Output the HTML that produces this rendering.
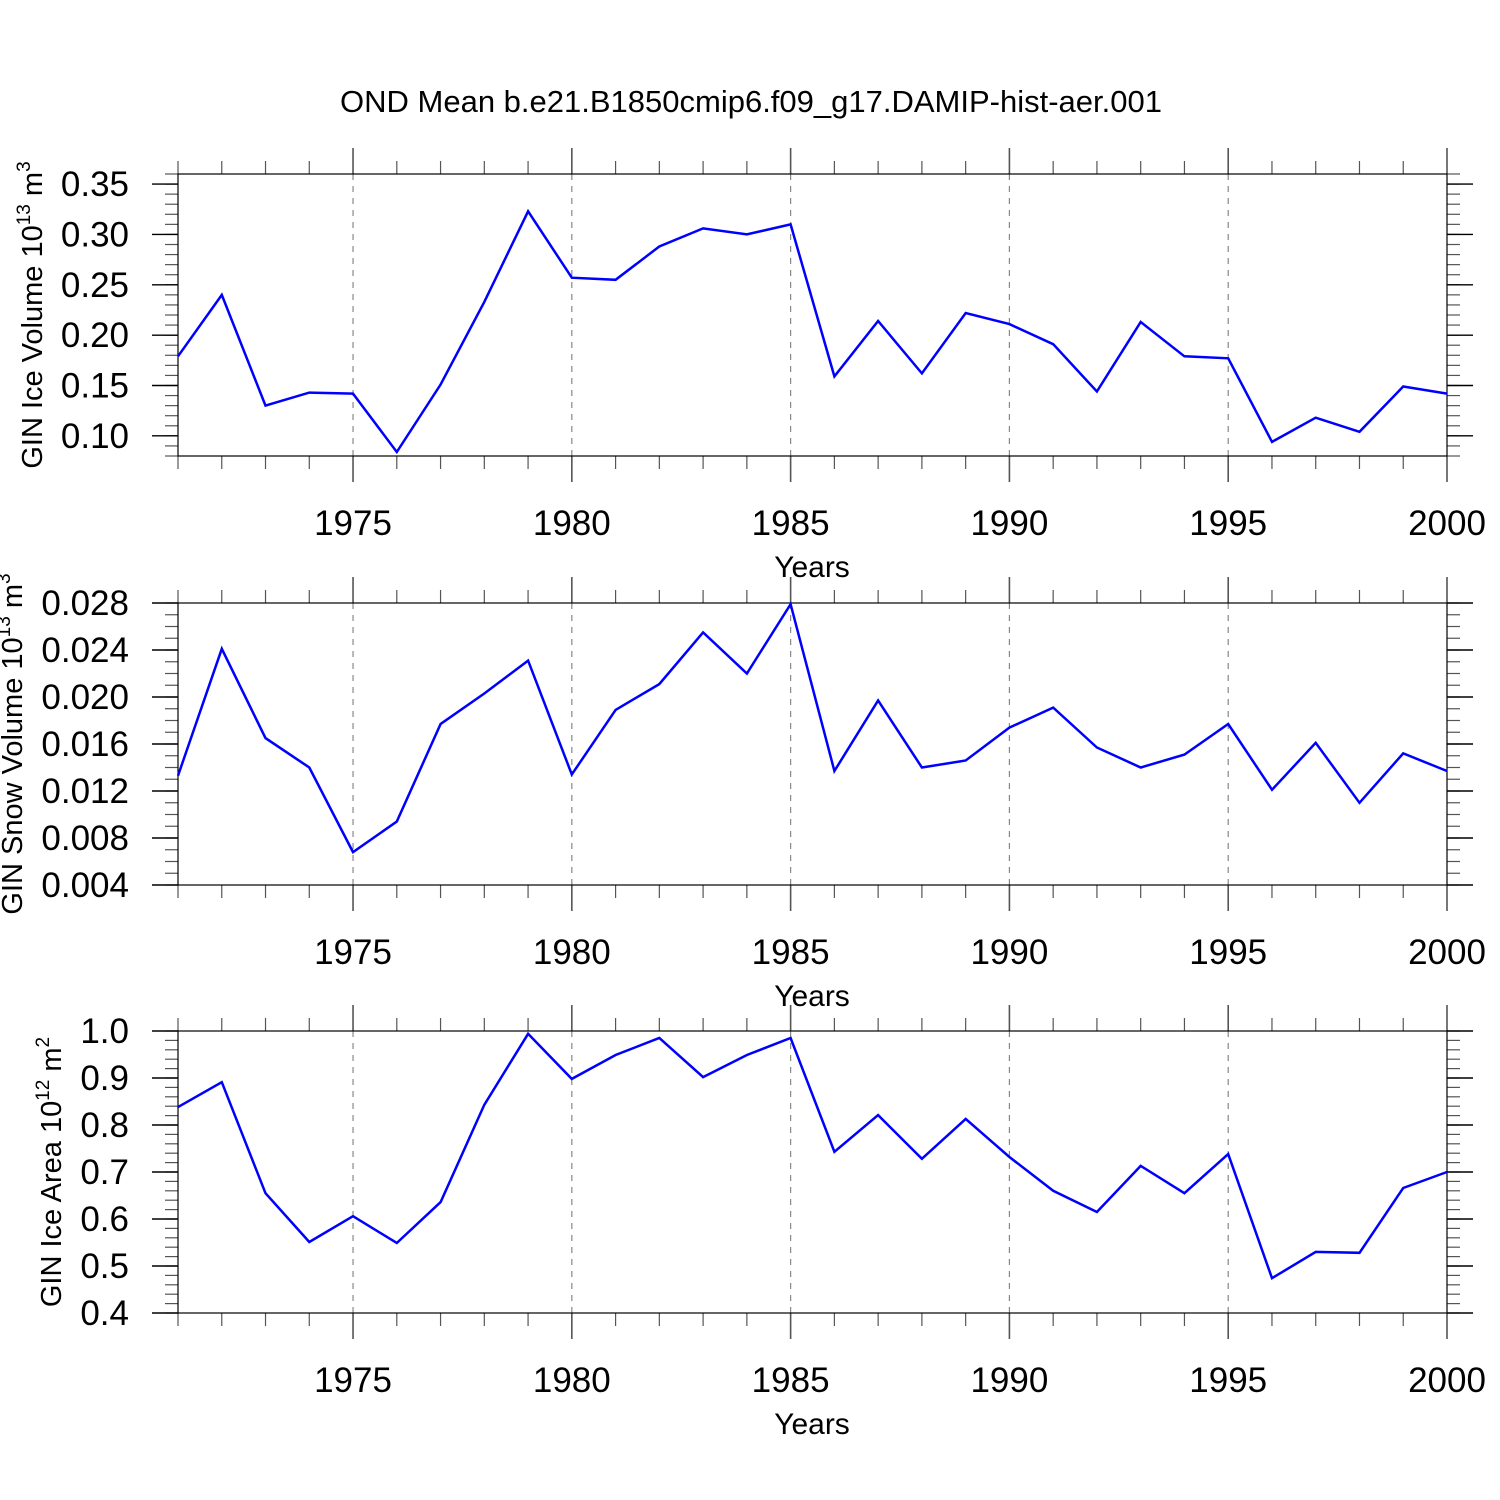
<!DOCTYPE html>
<html><head><meta charset="utf-8"><style>
html,body{margin:0;padding:0;background:#fff}
svg{display:block;font-family:"Liberation Sans",Arial,sans-serif}
</style></head><body>
<svg id="chart" width="1500" height="1500" viewBox="0 0 1500 1500">
<text x="751" y="112" font-size="31" text-anchor="middle">OND Mean b.e21.B1850cmip6.f09_g17.DAMIP-hist-aer.001</text>
</svg>
<script>
const years = [1971,1972,1973,1974,1975,1976,1977,1978,1979,1980,1981,1982,1983,1984,1985,1986,1987,1988,1989,1990,1991,1992,1993,1994,1995,1996,1997,1998,1999,2000];
const iceVolume = [0.179,0.240,0.130,0.143,0.142,0.084,0.151,0.233,0.323,0.257,0.255,0.288,0.306,0.300,0.310,0.159,0.214,0.162,0.222,0.211,0.191,0.144,0.213,0.179,0.177,0.094,0.118,0.104,0.149,0.142];
const snowVolume = [0.0133,0.0241,0.0165,0.0140,0.0068,0.0094,0.0177,0.0203,0.0231,0.0134,0.0189,0.0211,0.0255,0.0220,0.0279,0.0137,0.0197,0.0140,0.0146,0.0174,0.0191,0.0157,0.0140,0.0151,0.0177,0.0121,0.0161,0.0110,0.0152,0.0137];
const iceArea = [0.838,0.891,0.655,0.551,0.606,0.549,0.636,0.843,0.994,0.898,0.949,0.985,0.902,0.949,0.985,0.743,0.821,0.728,0.813,0.732,0.660,0.615,0.713,0.655,0.738,0.474,0.530,0.528,0.666,0.700];
const xTicks = [1975,1980,1985,1990,1995,2000];
const iceVolTicks = ["0.10","0.15","0.20","0.25","0.30","0.35"];
const snowTicks = ["0.004","0.008","0.012","0.016","0.020","0.024","0.028"];
const areaTicks = ["0.4","0.5","0.6","0.7","0.8","0.9","1.0"];

const svg = document.getElementById('chart');
const NS = 'http://www.w3.org/2000/svg';
function mk(tag, attrs, parent){const e=document.createElementNS(NS,tag);for(const k in attrs)e.setAttribute(k,attrs[k]);(parent||svg).appendChild(e);return e;}
const X0=178,X1=1447,XMIN=1971,XMAX=2000;
const xs = v => X0+(v-XMIN)/(XMAX-XMIN)*(X1-X0);

function panel(id, top, vmin, vmax, data, ticks, minorStep, label, sup, titleX){
  const bot=top+282;
  const ys = v => bot-(v-vmin)/(vmax-vmin)*(bot-top);
  const g=mk('g',{});
  
  
  xTicks.forEach(t=>{ if(t<XMAX){ const l=mk('line',{x1:xs(t),x2:xs(t),y1:top,y2:bot,stroke:'#888','stroke-width':1.2,'stroke-dasharray':'6,6'},g);
    
    }});
  for(let y=XMIN;y<=XMAX;y++){
    const major = y%5===0;
    const len = major?26:13;
    mk('line',{x1:xs(y),x2:xs(y),y1:top-len,y2:top,stroke:'#555','stroke-width':major?1.6:1.2},g);
    mk('line',{x1:xs(y),x2:xs(y),y1:bot,y2:bot+len,stroke:'#555','stroke-width':major?1.6:1.2},g);
  }
  xTicks.forEach(t=>{const tx=mk('text',{x:xs(t),y:bot+79,'font-size':35,'text-anchor':'middle'},g);tx.textContent=t;
    
    });
  const xt=mk('text',{x:812,y:bot+121,'font-size':30,'text-anchor':'middle'},g);xt.textContent='Years';
  
  
  const n=Math.round((vmax-vmin)/minorStep);
  for(let i=0;i<=n;i++){
    const v=vmin+i*minorStep, y=ys(v);
    if(y<top-0.5||y>bot+0.5) continue;
    mk('line',{x1:X0-13,x2:X0,y1:y,y2:y,stroke:'#555','stroke-width':1.2},g);
    mk('line',{x1:X1,x2:X1+13,y1:y,y2:y,stroke:'#555','stroke-width':1.2},g);
  }
  ticks.forEach(t=>{const v=parseFloat(t),y=ys(v);
    mk('line',{x1:X0-26,x2:X0,y1:y,y2:y,stroke:'#000','stroke-width':1.4},g);
    mk('line',{x1:X1,x2:X1+26,y1:y,y2:y,stroke:'#000','stroke-width':1.4},g);
    const tx=mk('text',{x:129,y:y+12,'font-size':35,'text-anchor':'end'},g);tx.textContent=t;
    
    });
  mk('rect',{x:X0,y:top,width:X1-X0,height:bot-top,fill:'none',stroke:'#000','stroke-width':1.2},g);
  const pts=data.map((v,i)=>xs(years[i]).toFixed(1)+','+ys(v).toFixed(1)).join(' ');
  const pl=mk('polyline',{points:pts,fill:'none',stroke:'#0000ff','stroke-width':2.5,'stroke-linejoin':'miter'},g);
  
  
  const cy=top+141;
  const yt=mk('text',{x:0,y:0,'font-size':29,'text-anchor':'middle',transform:`translate(${titleX},${cy}) rotate(-90)`},g);
  
  
  yt.appendChild(document.createTextNode(label+' 10'));
  const s1=mk('tspan',{dy:-12,'font-size':19},yt);s1.textContent=sup[0];
  const s2=mk('tspan',{dy:12,'font-size':29},yt);s2.textContent=' m';
  const s3=mk('tspan',{dy:-12,'font-size':19},yt);s3.textContent=sup[1];
}
panel('ice-volume',174,0.08,0.36,iceVolume,iceVolTicks,0.01,'GIN Ice Volume',['13','3'],42);
panel('snow-volume',603,0.004,0.028,snowVolume,snowTicks,0.001,'GIN Snow Volume',['13','3'],22);
panel('ice-area',1031,0.4,1.0,iceArea,areaTicks,0.02,'GIN Ice Area',['12','2'],61);
</script>
</body></html>
